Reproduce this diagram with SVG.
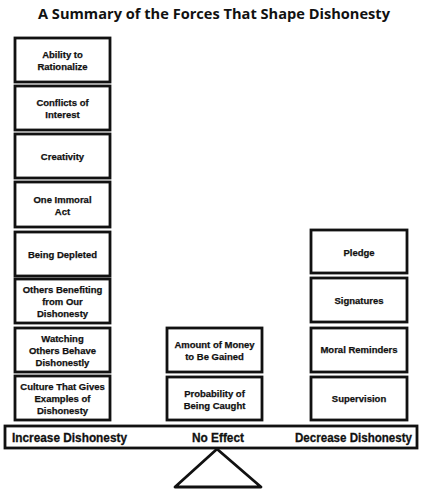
<svg xmlns="http://www.w3.org/2000/svg" width="425" height="495" viewBox="0 0 425 495">
<style>
.box{fill:#fff;stroke:#111;stroke-width:2.8}
.t{font-family:"Liberation Sans",Arial,sans-serif;font-weight:bold;font-size:9.5px;fill:#111;stroke:#111;stroke-width:0.25;text-anchor:middle}
.lbl{font-family:"Liberation Sans",Arial,sans-serif;font-weight:bold;font-size:13px;fill:#111;stroke:#111;stroke-width:0.3}
.title{font-family:"Open Sans","Liberation Sans",sans-serif;font-weight:bold;font-size:15px;fill:#111;text-anchor:middle}
</style>
<rect width="425" height="495" fill="#fff"/>
<text class="title" x="214" y="19" textLength="352" lengthAdjust="spacingAndGlyphs">A Summary of the Forces That Shape Dishonesty</text>
<g id="n-ability"><rect class="box" x="15" y="38" width="95" height="44"/><text class="t" x="62.5" y="58">Ability to</text><text class="t" x="62.5" y="70">Rationalize</text></g>
<g id="n-conflicts"><rect class="box" x="15" y="86" width="95" height="44"/><text class="t" x="62.5" y="106">Conflicts of</text><text class="t" x="62.5" y="118">Interest</text></g>
<g id="n-creativity"><rect class="box" x="15" y="134" width="95" height="44"/><text class="t" x="62.5" y="160">Creativity</text></g>
<g id="n-immoral"><rect class="box" x="15" y="182" width="95" height="45"/><text class="t" x="62.5" y="203">One Immoral</text><text class="t" x="62.5" y="215">Act</text></g>
<g id="n-depleted"><rect class="box" x="15" y="232" width="95" height="44"/><text class="t" x="62.5" y="258">Being Depleted</text></g>
<g id="n-others"><rect class="box" x="15" y="279" width="95" height="44"/><text class="t" x="62.5" y="293">Others Benefiting</text><text class="t" x="62.5" y="305">from Our</text><text class="t" x="62.5" y="317">Dishonesty</text></g>
<g id="n-watching"><rect class="box" x="15" y="328" width="95" height="44"/><text class="t" x="62.5" y="342">Watching</text><text class="t" x="62.5" y="354">Others Behave</text><text class="t" x="62.5" y="366">Dishonestly</text></g>
<g id="n-culture"><rect class="box" x="15" y="376" width="95" height="44"/><text class="t" x="62.5" y="390">Culture That Gives</text><text class="t" x="62.5" y="402">Examples of</text><text class="t" x="62.5" y="414">Dishonesty</text></g>
<g id="n-money"><rect class="box" x="167" y="328" width="95" height="44"/><text class="t" x="214.5" y="348">Amount of Money</text><text class="t" x="214.5" y="360">to Be Gained</text></g>
<g id="n-probability"><rect class="box" x="167" y="377" width="95" height="43"/><text class="t" x="214.5" y="397">Probability of</text><text class="t" x="214.5" y="409">Being Caught</text></g>
<g id="n-pledge"><rect class="box" x="311" y="230" width="96" height="43"/><text class="t" x="359" y="256">Pledge</text></g>
<g id="n-signatures"><rect class="box" x="311" y="278" width="96" height="44"/><text class="t" x="359" y="304">Signatures</text></g>
<g id="n-moral"><rect class="box" x="311" y="328" width="96" height="44"/><text class="t" x="359" y="353">Moral Reminders</text></g>
<g id="n-supervision"><rect class="box" x="311" y="377" width="96" height="43"/><text class="t" x="359" y="402">Supervision</text></g>
<g id="n-beam"><rect class="box" x="5" y="426" width="412" height="22"/>
<text class="lbl" x="12" y="442" textLength="115" lengthAdjust="spacingAndGlyphs">Increase Dishonesty</text>
<text class="lbl" x="218" y="442" text-anchor="middle" textLength="52" lengthAdjust="spacingAndGlyphs">No Effect</text>
<text class="lbl" x="295" y="442" textLength="117" lengthAdjust="spacingAndGlyphs">Decrease Dishonesty</text></g>
<g id="connectors"><path d="M217 449 L175 487 L261 487 Z" fill="none" stroke="#111" stroke-width="2.8" stroke-linejoin="round"/></g>
</svg>
